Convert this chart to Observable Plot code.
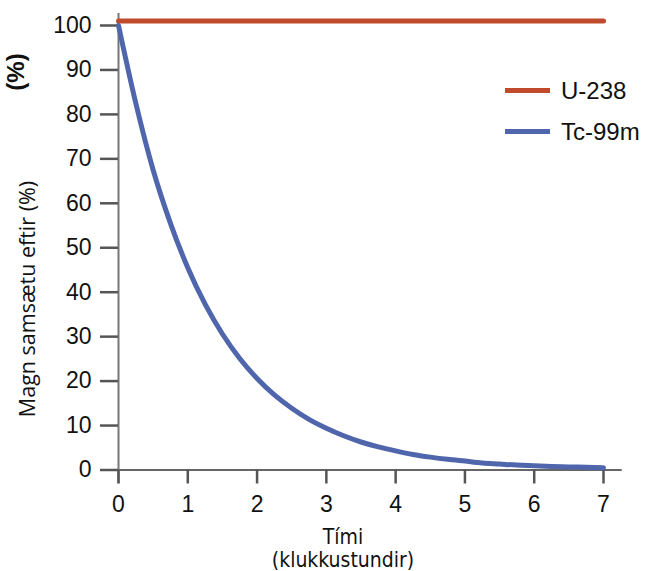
<!DOCTYPE html>
<html>
<head>
<meta charset="utf-8">
<script src="https://cdn.jsdelivr.net/npm/d3@7"></script>
<script src="https://cdn.jsdelivr.net/npm/@observablehq/plot@0.6"></script>
<style>
  html, body { margin: 0; padding: 0; background: #fff; }
  #wrap { position: relative; width: 650px; height: 571px; overflow: hidden; }
  .legend { position: absolute; left: 505px; top: 70px; font-family: "Liberation Sans", Arial, sans-serif; font-size: 24px; color: #111; }
  .legend .row { display: flex; align-items: center; height: 41px; }
  .legend .sw { width: 45px; height: 5px; margin-right: 11px; }
</style>
</head>
<body>
<div id="wrap"></div>
<script>
// Time in hours and remaining amount (%) of each isotope
const hours = [0, 0.25, 0.5, 0.75, 1, 1.25, 1.5, 1.75, 2, 2.25, 2.5, 2.75, 3, 3.25, 3.5, 3.75,
               4, 4.25, 4.5, 4.75, 5, 5.25, 5.5, 5.75, 6, 6.25, 6.5, 6.75, 7];
const tc99m = [100, 82.5, 67.5, 55.5, 45.5, 37.3, 30.6, 25.1, 20.6, 16.9, 13.9, 11.4, 9.4, 7.7, 6.3, 5.2,
               4.3, 3.5, 2.9, 2.4, 2.0, 1.6, 1.35, 1.1, 0.95, 0.8, 0.7, 0.6, 0.5];
const u238 = hours.map(() => 101);

const seriesNames = ["U-238", "Tc-99m"];
const seriesColors = ["#bf4a2c", "#4f66ad"];
const xTicks = [0, 1, 2, 3, 4, 5, 6, 7];
const yTicks = [0, 10, 20, 30, 40, 50, 60, 70, 80, 90, 100];
const xTitle = ["Tími", "(klukkustundir)"];

const rows = [
  ...hours.map((h, i) => ({hour: h, amount: u238[i], isotope: "U-238"})),
  ...hours.map((h, i) => ({hour: h, amount: tc99m[i], isotope: "Tc-99m"}))
];

const chart = Plot.plot({
  width: 650,
  height: 571,
  marginLeft: 118,
  marginRight: 47,
  marginTop: 25,
  marginBottom: 101.5,
  style: {fontFamily: "'Liberation Sans', Arial, sans-serif", fontSize: "23px", color: "#111", background: "#fff"},
  x: {domain: [0, 7], ticks: xTicks, label: null},
  y: {domain: [0, 100], ticks: yTicks, label: null},
  color: {domain: seriesNames, range: seriesColors},
  marks: [
    // axis lines
    Plot.ruleY([0], {x1: -0.26, x2: 7.27, stroke: "#666", strokeWidth: 2}),
    Plot.ruleX([0], {y1: -3.1, y2: 102.7, stroke: "#777", strokeWidth: 2}),
    Plot.axisX({ticks: xTicks, tickFormat: "d", tickSize: 14, tickPadding: 12, stroke: "#555", strokeWidth: 2.5, fill: "#111", label: null}),
    Plot.axisY({ticks: yTicks, tickFormat: "d", tickSize: 18, tickPadding: 9, stroke: "#555", strokeWidth: 2.5, fill: "#111", label: null}),
    Plot.lineY(rows, {x: "hour", y: "amount", z: "isotope", stroke: "isotope", strokeWidth: 5, curve: "monotone-x"})
  ]
});

const svg = d3.select(chart);
// axis titles
svg.append("text")
  .attr("transform", "translate(35,299) rotate(-90)")
  .attr("text-anchor", "middle")
  .style("font-family", "'Open Sans', 'Noto Sans', sans-serif")
  .style("font-size", "21.5px")
  .attr("fill", "#111")
  .text("Magn samsætu eftir (%)");
svg.append("text")
  .attr("transform", "translate(24,72) rotate(-90)")
  .attr("text-anchor", "middle")
  .style("font-family", "'Liberation Sans', Arial, sans-serif")
  .style("font-weight", "bold")
  .style("font-size", "24px")
  .attr("fill", "#111")
  .text("(%)");
xTitle.forEach((line, i) => {
  svg.append("text")
    .attr("x", 343)
    .attr("y", 544 + i * 23)
    .attr("text-anchor", "middle")
    .style("font-family", "'DejaVu Sans Condensed', 'DejaVu Sans', sans-serif")
    .style("font-stretch", "condensed")
    .style("font-size", "21px")
    .attr("fill", "#111")
    .text(line);
});

const wrap = document.getElementById("wrap");
wrap.appendChild(chart);

// legend
const legend = document.createElement("div");
legend.className = "legend";
seriesNames.forEach((name, i) => {
  const row = document.createElement("div");
  row.className = "row";
  const sw = document.createElement("div");
  sw.className = "sw";
  sw.style.background = seriesColors[i];
  const lbl = document.createElement("span");
  lbl.textContent = name;
  row.appendChild(sw);
  row.appendChild(lbl);
  legend.appendChild(row);
});
wrap.appendChild(legend);
</script>
</body>
</html>
